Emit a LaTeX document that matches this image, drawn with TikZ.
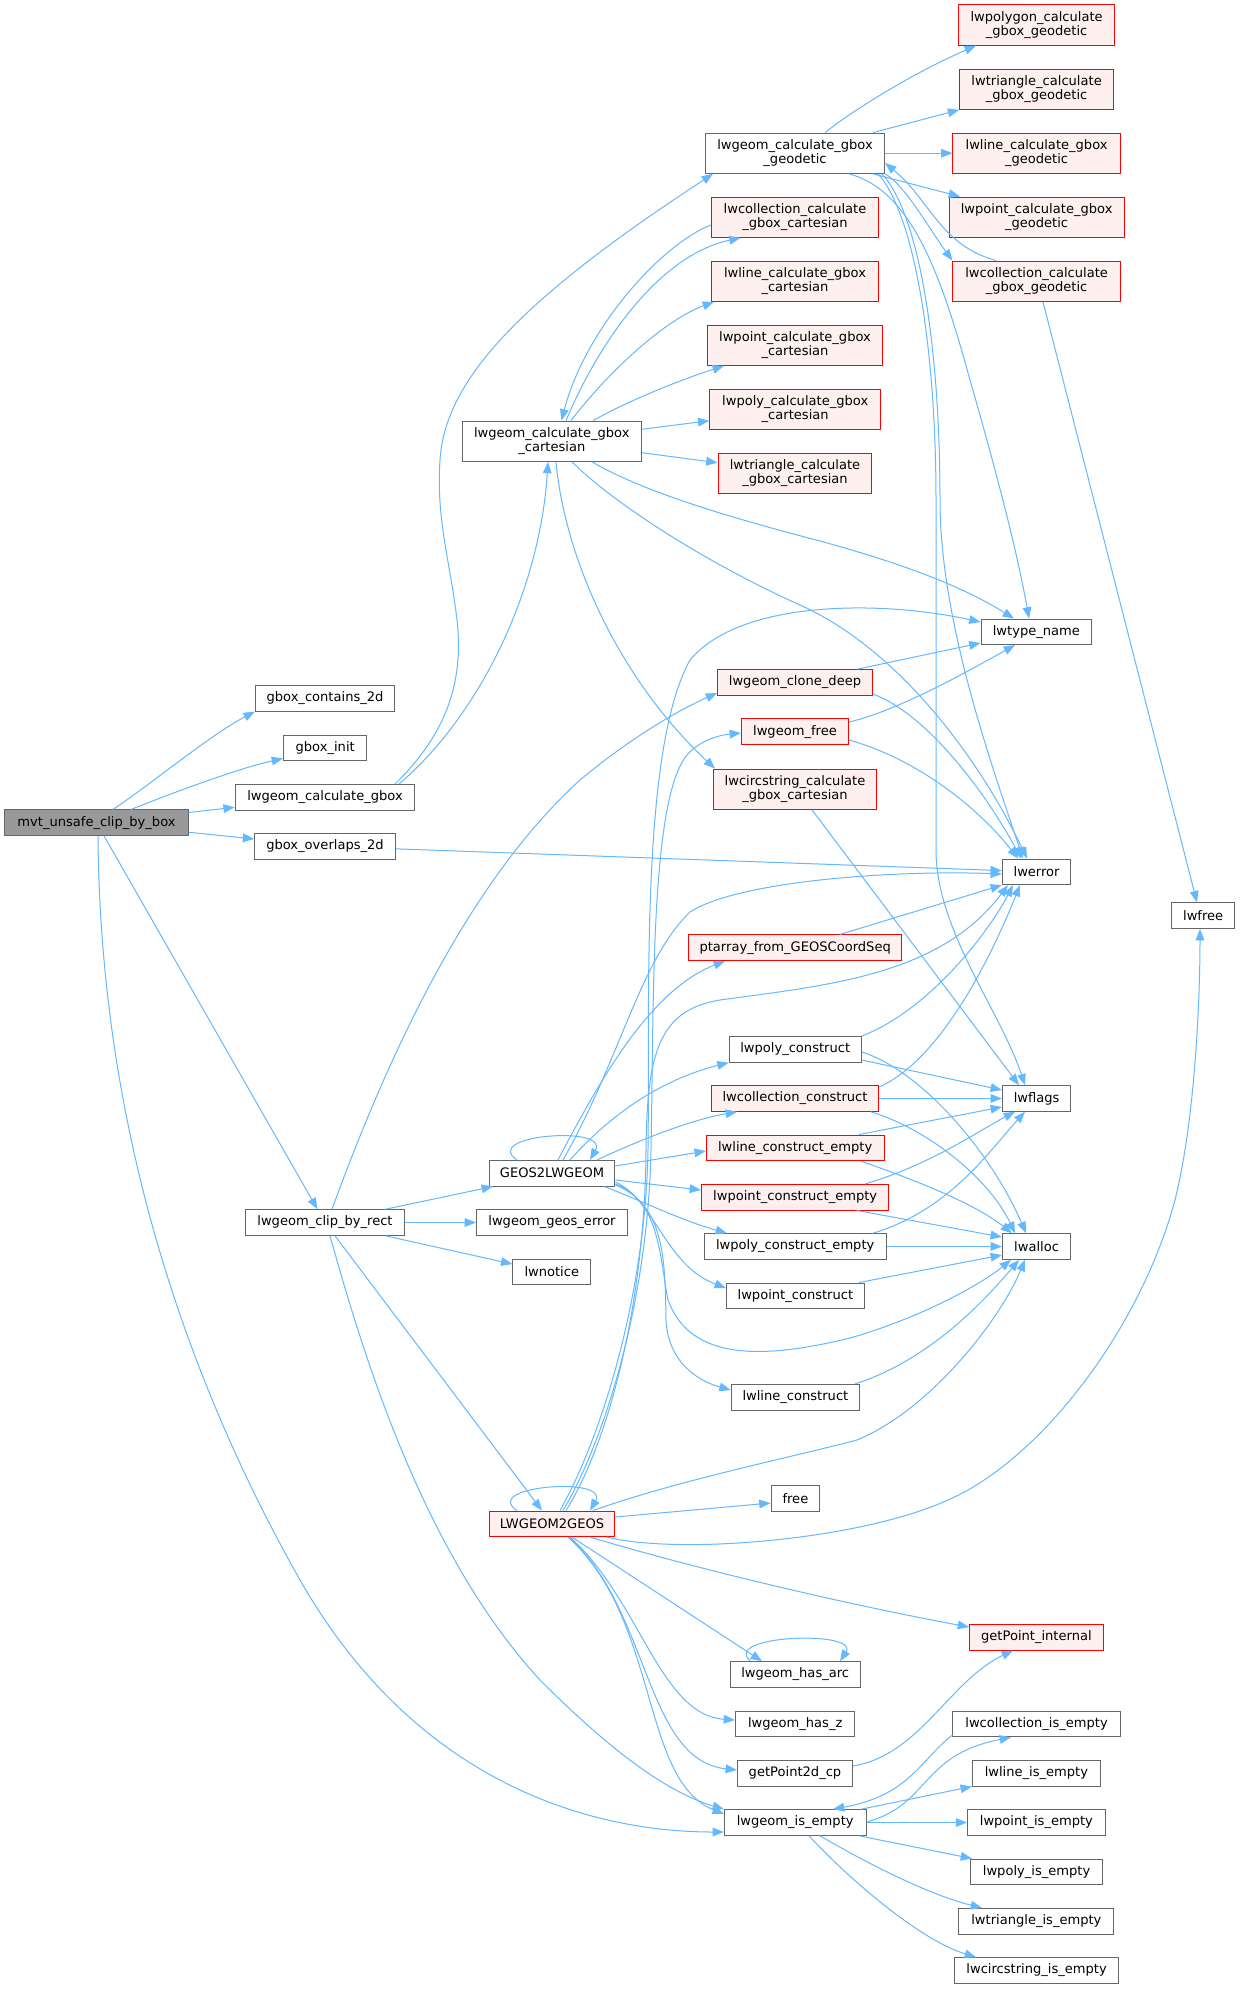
\documentclass[tikz,border=0pt]{standalone}
\usepackage{fontspec}
\setmainfont{DejaVu Sans}
\usetikzlibrary{arrows.meta}
\definecolor{edgec}{HTML}{63B8FF}
\definecolor{grayb}{HTML}{666666}
\definecolor{rootf}{HTML}{999999}
\definecolor{redf}{HTML}{FFF0F0}
\begin{document}
\begin{tikzpicture}[x=0.75pt,y=-0.75pt,
  nbase/.style={draw, line width=0.75pt, inner sep=0pt, align=center, font=\fontsize{9.8}{11}\selectfont, minimum height=25.6*0.75pt, text=black},
  nb/.style={nbase, draw=grayb, fill=white},
  rb/.style={nbase, draw=red, fill=redf},
  rootbox/.style={nbase, draw=grayb, fill=rootf},
  twoline/.style={minimum height=40.3*0.75pt},
  edg/.style={draw=edgec, line width=0.75pt, -{Triangle[length=8.5pt,width=6.5pt]}},
  ]
\fill[white] (0,0) rectangle (1240,1989);
\useasboundingbox (0,0) rectangle (1240,1989);

% column 1-3
\node[rootbox, minimum width=183.5*0.75pt] (mvt) at (96.5,822.7) {mvt\_unsafe\_clip\_by\_box};
\node[nb, minimum width=139.2*0.75pt] (gbc) at (325,698.3) {gbox\_contains\_2d};
\node[nb, minimum width=83.4*0.75pt] (gbi) at (325.2,748) {gbox\_init};
\node[nb, minimum width=179.5*0.75pt] (lcg) at (325,797.3) {lwgeom\_calculate\_gbox};
\node[nb, minimum width=140.8*0.75pt] (gbo) at (325,846.3) {gbox\_overlaps\_2d};
\node[nb, minimum width=158.9*0.75pt] (clip) at (325,1222.5) {lwgeom\_clip\_by\_rect};
\node[nb, twoline, minimum width=179.2*0.75pt] (lcgc) at (551.8,441.2) {lwgeom\_calculate\_gbox\\\_cartesian};
\node[nb, minimum width=125.8*0.75pt] (G2L) at (552,1173.2) {GEOS2LWGEOM};
\node[nb, minimum width=151*0.75pt] (geoserr) at (552,1222.5) {lwgeom\_geos\_error};
\node[nb, minimum width=77.9*0.75pt] (lwnotice) at (551.8,1271.8) {lwnotice};
\node[rb, minimum width=125.8*0.75pt] (L2G) at (552,1523.8) {LWGEOM2GEOS};

% column 4
\node[nb, twoline, minimum width=179.1*0.75pt] (lcgg) at (795,153.2) {lwgeom\_calculate\_gbox\\\_geodetic};
\node[rb, twoline, minimum width=167.3*0.75pt] (lccc) at (795,217.2) {lwcollection\_calculate\\\_gbox\_cartesian};
\node[rb, twoline, minimum width=167.3*0.75pt] (llcc) at (795,281.2) {lwline\_calculate\_gbox\\\_cartesian};
\node[rb, twoline, minimum width=175.2*0.75pt] (lpcc) at (795,345.2) {lwpoint\_calculate\_gbox\\\_cartesian};
\node[rb, twoline, minimum width=170.8*0.75pt] (lpycc) at (795.2,409.2) {lwpoly\_calculate\_gbox\\\_cartesian};
\node[rb, twoline, minimum width=153.9*0.75pt] (ltcc) at (795,473.2) {lwtriangle\_calculate\\\_gbox\_cartesian};
\node[rb, minimum width=154.6*0.75pt] (clone) at (795,682.5) {lwgeom\_clone\_deep};
\node[rb, minimum width=107.1*0.75pt] (lfree) at (795,731.7) {lwgeom\_free};
\node[rb, twoline, minimum width=163.3*0.75pt] (lccirc) at (795,789.2) {lwcircstring\_calculate\\\_gbox\_cartesian};
\node[rb, minimum width=212.7*0.75pt] (ptarray) at (795.2,947.7) {ptarray\_from\_GEOSCoordSeq};
\node[nb, minimum width=132.1*0.75pt] (lpc) at (795.2,1049.3) {lwpoly\_construct};
\node[rb, minimum width=167.3*0.75pt] (lcc) at (795,1098.5) {lwcollection\_construct};
\node[rb, minimum width=177.9*0.75pt] (llce) at (795.2,1147.8) {lwline\_construct\_empty};
\node[rb, minimum width=187.4*0.75pt] (lptce) at (795.2,1197.2) {lwpoint\_construct\_empty};
\node[nb, minimum width=181.9*0.75pt] (lpyce) at (795.2,1246.5) {lwpoly\_construct\_empty};
\node[nb, minimum width=138*0.75pt] (lptc) at (795.4,1295.8) {lwpoint\_construct};
\node[nb, minimum width=128.5*0.75pt] (llc) at (795.4,1397.2) {lwline\_construct};
\node[nb, minimum width=48.7*0.75pt] (free) at (795.4,1498.5) {free};
\node[nb, minimum width=130.4*0.75pt] (harc) at (795.2,1674.5) {lwgeom\_has\_arc};
\node[nb, minimum width=119.4*0.75pt] (hz) at (795.2,1724) {lwgeom\_has\_z};
\node[nb, minimum width=115.1*0.75pt] (gp2d) at (795,1773.2) {getPoint2d\_cp};
\node[nb, minimum width=141.6*0.75pt] (isempty) at (795.2,1822.5) {lwgeom\_is\_empty};

% column 5
\node[rb, twoline, minimum width=155.4*0.75pt] (lpygg) at (1036.6,25) {lwpolygon\_calculate\\\_gbox\_geodetic};
\node[rb, twoline, minimum width=153.8*0.75pt] (ltgg) at (1036.6,89.2) {lwtriangle\_calculate\\\_gbox\_geodetic};
\node[rb, twoline, minimum width=167.3*0.75pt] (llgg) at (1036.6,153.2) {lwline\_calculate\_gbox\\\_geodetic};
\node[rb, twoline, minimum width=175.1*0.75pt] (lpgg) at (1036.6,217.2) {lwpoint\_calculate\_gbox\\\_geodetic};
\node[rb, twoline, minimum width=167.3*0.75pt] (lcgg2) at (1036.6,281.2) {lwcollection\_calculate\\\_gbox\_geodetic};
\node[nb, minimum width=110.7*0.75pt] (ltype) at (1036.4,631.8) {lwtype\_name};
\node[nb, minimum width=68.4*0.75pt] (lwerror) at (1036.6,871.8) {lwerror};
\node[nb, minimum width=68.4*0.75pt] (lwflags) at (1036.6,1098.5) {lwflags};
\node[nb, minimum width=68.4*0.75pt] (lwalloc) at (1036.6,1246.5) {lwalloc};
\node[rb, minimum width=133.7*0.75pt] (gpi) at (1036.4,1637.3) {getPoint\_internal};
\node[nb, minimum width=167.3*0.75pt] (lcie) at (1036.6,1724) {lwcollection\_is\_empty};
\node[nb, minimum width=128.1*0.75pt] (llie) at (1036.4,1773.2) {lwline\_is\_empty};
\node[nb, minimum width=137.6*0.75pt] (lptie) at (1036.4,1822.5) {lwpoint\_is\_empty};
\node[nb, minimum width=132.5*0.75pt] (lpyie) at (1036.6,1871.8) {lwpoly\_is\_empty};
\node[nb, minimum width=155*0.75pt] (ltie) at (1036.4,1921.2) {lwtriangle\_is\_empty};
\node[nb, minimum width=164.1*0.75pt] (lcsie) at (1036.6,1970.5) {lwcircstring\_is\_empty};
\node[nb, minimum width=63.3*0.75pt] (lwfree) at (1203.2,915.7) {lwfree};

% mvt
\draw[edg] (113,0 |- mvt.north) .. controls (150,785) and (210,735) .. (gbc.south west);
\draw[edg] (131,0 |- mvt.north) .. controls (180,790) and (240,768) .. (gbi.west |- 0,758.5);
\draw[edg] (mvt) -- (lcg);
\draw[edg] (mvt) -- (gbo);
\draw[edg] (mvt) -- (clip);
\draw[edg] (98,0 |- mvt.south) .. controls (100,1100) and (170,1350) .. (300,1580) .. controls (420,1790) and (600,1832) .. (isempty.west |- 0,1832);

% lcg
\draw[edg] (395,0 |- lcg.north) .. controls (440,740) and (465,690) .. (457,620) .. controls (450,560) and (436,520) .. (440,460) .. controls (445,380) and (520,300) .. (713,0 |- lcgg.south);
\draw[edg] (399,0 |- lcg.north) .. controls (480,715) and (540,590) .. (548,0 |- lcgc.south);

% lcgc
\draw[edg] (lccc.west |- 0,225) .. controls (660,245) and (585,330) .. (561.5,0 |- lcgc.north);
\draw[edg] (566,0 |- lcgc.north) .. controls (600,340) and (660,255) .. (740.6,0 |- lccc.south);
\draw[edg] (571,0 |- lcgc.north) .. controls (610,370) and (665,320) .. (714,0 |- llcc.south);
\draw[edg] (593,0 |- lcgc.north) .. controls (630,400) and (680,380) .. (724,0 |- lpcc.south);
\draw[edg] (lcgc.east |- 0,429.3) -- (lpycc.west |- 0,420.7);
\draw[edg] (lcgc.east |- 0,452.7) -- (ltcc.west |- 0,462.7);
\draw[edg] (592,0 |- lcgc.south) .. controls (640,490) and (720,515) .. (820,541) .. controls (900,563) and (960,585) .. (1014,0 |- ltype.north);
\draw[edg] (572,0 |- lcgc.south) .. controls (610,500) and (700,560) .. (800,605) .. controls (900,650) and (980,760) .. (1027,0 |- lwerror.north);
\draw[edg] (556,0 |- lcgc.south) .. controls (565,560) and (620,680) .. (715,0 |- lccirc.north);

% lcgg
\draw[edg] (825,0 |- lcgg.north) .. controls (860,105) and (920,70) .. (976,0 |- lpygg.south);
\draw[edg] (873,0 |- lcgg.north) -- (ltgg.south west);
\draw[edg] (lcgg) -- (llgg);
\draw[edg] (873,0 |- lcgg.south) -- (960,0 |- lpgg.north);
\draw[edg] (lcgg.south east) .. controls (905,185) and (930,230) .. (lcgg2.north west);
\draw[edg] (996,0 |- lcgg2.north) .. controls (940,245) and (930,200) .. (lcgg.east |- 0,163);
\draw[edg] (849,0 |- lcgg.south) .. controls (910,190) and (940,270) .. (970,380) .. controls (990,450) and (1015,540) .. (1029,0 |- ltype.north);
\draw[edg] (882,0 |- lcgg.south) .. controls (920,215) and (940,350) .. (940,500) .. controls (940,620) and (990,760) .. (1023,0 |- lwerror.north);
\draw[edg] (878,0 |- lcgg.south) .. controls (915,215) and (936,350) .. (936,500) -- (936,850) .. controls (936,930) and (1000,1010) .. (1025,0 |- lwflags.north);
\draw[edg] (1043,0 |- lcgg2.south) -- (1197,0 |- lwfree.north);

% lccirc, clone, lfree, gbo, ptarray
\draw[edg] (812,0 |- lccirc.south) -- (1019,0 |- lwflags.north);
\draw[edg] (857,0 |- clone.north) -- (ltype.west |- 0,643);
\draw[edg] (clone.east |- 0,694) .. controls (930,715) and (990,800) .. (1021,0 |- lwerror.north);
\draw[edg] (lfree.east |- 0,722) .. controls (900,710) and (970,670) .. (1015,0 |- ltype.south);
\draw[edg] (lfree.east |- 0,740) .. controls (920,760) and (980,810) .. (1018,0 |- lwerror.north);
\draw[edg] (gbo) -- (lwerror);
\draw[edg] (840,0 |- ptarray.north) -- (lwerror.south west);

% constructors
\draw[edg] (lpc.north east) .. controls (930,1010) and (990,930) .. (1013,0 |- lwerror.south);
\draw[edg] (lpc.east |- 0,1060) -- (lwflags.west |- 0,1090);
\draw[edg] (lpc.east |- 0,1052) .. controls (920,1070) and (990,1150) .. (1026,0 |- lwalloc.north);
\draw[edg] (lcc) -- (lwflags);
\draw[edg] (871,0 |- lcc.south) .. controls (930,1130) and (990,1180) .. (1015,0 |- lwalloc.north);
\draw[edg] (lcc.east |- 0,1087) .. controls (940,1060) and (990,960) .. (1020,0 |- lwerror.south);
\draw[edg] (859,0 |- llce.north) -- (lwflags.west |- 0,1107);
\draw[edg] (861,0 |- llce.south) .. controls (900,1175) and (970,1200) .. (1012,0 |- lwalloc.north);
\draw[edg] (865,0 |- lptce.north) .. controls (930,1165) and (980,1130) .. (1015,0 |- lwflags.south);
\draw[edg] (857,0 |- lptce.south) -- (lwalloc.west |- 0,1237);
\draw[edg] (873,0 |- lpyce.north) .. controls (950,1210) and (990,1150) .. (1025,0 |- lwflags.south);
\draw[edg] (lpyce) -- (lwalloc);
\draw[edg] (859,0 |- lptc.north) -- (lwalloc.west |- 0,1255);
\draw[edg] (855,0 |- llc.north) .. controls (930,1360) and (985,1300) .. (1019,0 |- lwalloc.south);

% GEOS2LWGEOM
\draw[edg] (517,0 |- G2L.north) .. controls (480,1135) and (610,1125) .. (590,0 |- G2L.north);
\draw[edg] (570,0 |- G2L.north) .. controls (610,1115) and (660,1080) .. (lpc.south west);
\draw[edg] (597,0 |- G2L.north) .. controls (640,1140) and (690,1120) .. (737,0 |- lcc.south);
\draw[edg] (G2L.east |- 0,1166) -- (llce.west |- 0,1151);
\draw[edg] (G2L.east |- 0,1180) -- (lptce.west |- 0,1190);
\draw[edg] (604,0 |- G2L.south) .. controls (640,1200) and (680,1220) .. (727,0 |- lpyce.north);
\draw[edg] (G2L.east |- 0,1182) .. controls (655,1200) and (665,1265) .. (lptc.west |- 0,1288);
\draw[edg] (G2L.east |- 0,1184) .. controls (660,1200) and (660,1260) .. (668,1300) .. controls (690,1360) and (760,1360) .. (850,1338) .. controls (920,1318) and (980,1285) .. (1011,0 |- lwalloc.south);
\draw[edg] (G2L.east |- 0,1185) .. controls (665,1205) and (665,1260) .. (666,1320) .. controls (668,1360) and (695,1380) .. (llc.west |- 0,1390);
\draw[edg] (558,0 |- G2L.north) .. controls (600,1080) and (650,990) .. (725,0 |- ptarray.south);
\draw[edg] (563,0 |- G2L.north) .. controls (620,1060) and (640,960) .. (690,912) .. controls (740,880) and (900,870) .. (lwerror.west |- 0,874);

% LWGEOM2GEOS
\draw[edg] (517,0 |- L2G.north) .. controls (480,1486) and (610,1476) .. (590,0 |- L2G.north);
\draw[edg] (560,0 |- L2G.north) .. controls (600,1440) and (645,1300) .. (648,1150) .. controls (650,1000) and (640,750) .. (690,660) .. controls (740,600) and (880,600) .. (ltype.west |- 0,622);
\draw[edg] (563,0 |- L2G.north) .. controls (605,1440) and (648,1300) .. (651,1150) .. controls (654,1000) and (650,800) .. (687,755) .. controls (700,740) and (720,735) .. (lfree.west |- 0,733);
\draw[edg] (566,0 |- L2G.north) .. controls (610,1440) and (645,1300) .. (646,1150) .. controls (647,1050) and (660,1010) .. (720,1000) .. controls (830,985) and (940,975) .. (1008,0 |- lwerror.south);
\draw[edg] (593,0 |- L2G.north) .. controls (680,1480) and (780,1460) .. (857,1440) .. controls (930,1410) and (1000,1320) .. (1025,0 |- lwalloc.south);
\draw[edg] (L2G.east |- 0,1517) -- (free.west |- 0,1503);
\draw[edg] (607,0 |- L2G.south) .. controls (680,1555) and (860,1540) .. (948,1500) .. controls (1040,1460) and (1140,1330) .. (1175,1200) .. controls (1195,1120) and (1200,1000) .. (1200,0 |- lwfree.south);
\draw[edg] (590,0 |- L2G.south) .. controls (700,1570) and (850,1605) .. (gpi.west |- 0,1627);
\draw[edg] (572,0 |- L2G.south) -- (762,0 |- harc.north);
\draw[edg] (570,0 |- L2G.south) .. controls (640,1600) and (660,1715) .. (hz.west |- 0,1720);
\draw[edg] (569,0 |- L2G.south) .. controls (650,1610) and (645,1760) .. (gp2d.west |- 0,1770);
\draw[edg] (568,0 |- L2G.south) .. controls (660,1620) and (640,1780) .. (isempty.west |- 0,1814);

% lwgeom_clip_by_rect
\draw[edg] (clip) -- (L2G);
\draw[edg] (385.5,0 |- clip.north) -- (493,0 |- G2L.south);
\draw[edg] (clip) -- (geoserr);
\draw[edg] (385.5,0 |- clip.south) -- (lwnotice.west |- 0,1264);
\draw[edg] (332,0 |- clip.north) .. controls (390,1050) and (470,880) .. (580,780) .. controls (640,730) and (690,705) .. (clone.west |- 0,693);
\draw[edg] (330,0 |- clip.south) .. controls (370,1380) and (430,1560) .. (540,1680) .. controls (600,1740) and (660,1790) .. (isempty.north west);

% lwgeom_is_empty and others
\draw[edg] (lcie.west |- 0,1735) .. controls (920,1760) and (910,1795) .. (833,0 |- isempty.north);
\draw[edg] (isempty.east |- 0,1822) .. controls (930,1805) and (920,1755) .. (1011,0 |- lcie.south);
\draw[edg] (861,0 |- isempty.north) -- (llie.south west);
\draw[edg] (isempty) -- (lptie);
\draw[edg] (859,0 |- isempty.south) -- (972,0 |- lpyie.north);
\draw[edg] (820,0 |- isempty.south) .. controls (870,1865) and (930,1895) .. (982,0 |- ltie.north);
\draw[edg] (809,0 |- isempty.south) .. controls (850,1880) and (920,1940) .. (976,0 |- lcsie.north);
\draw[edg] (gp2d.east |- 0,1766) .. controls (920,1755) and (950,1680) .. (1013,0 |- gpi.south);
\draw[edg] (750.5,0 |- harc.north) .. controls (720,1635) and (860,1630) .. (840,0 |- harc.north);
\end{tikzpicture}
\end{document}
